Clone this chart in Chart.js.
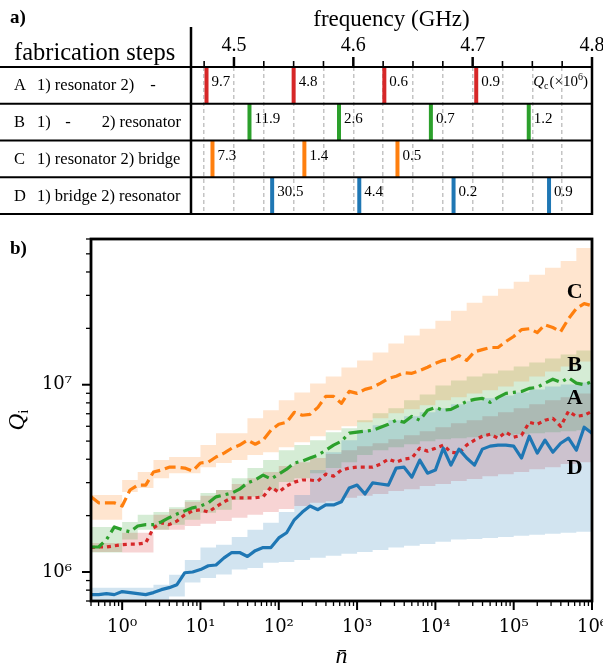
<!DOCTYPE html>
<html>
<head>
<meta charset="utf-8">
<script src="https://cdn.jsdelivr.net/npm/chart.js@4.4.1/dist/chart.umd.min.js"></script>
<style>
  body { margin: 0; background: #fff; }
  #wrap { position: relative; width: 603px; height: 672px; }
  canvas { position: absolute; left: 0; }
  #chartA { top: 0; }
  #chartB { top: 225px; }
</style>
</head>
<body>
<div id="wrap">
  <canvas id="chartA" width="603" height="225"></canvas>
  <canvas id="chartB" width="603" height="447"></canvas>
</div>
<script>
// ---------- panel a: resonance frequencies (GHz) and Qc (x10^6) ----------
const rowNames = ['A', 'B', 'C', 'D'];
const rowStep1 = ['resonator', '-', 'resonator', 'bridge'];
const rowStep2 = ['-', 'resonator', 'bridge', 'resonator'];
const rowColors = ['#d62728', '#2ca02c', '#ff7f0e', '#1f77b4'];

const freqA = [4.477, 4.550, 4.626, 4.703];
const freqB = [4.513, 4.588, 4.665, 4.747];
const freqC = [4.482, 4.559, 4.637];
const freqD = [4.532, 4.605, 4.684, 4.764];
const qcA = [9.7, 4.8, 0.6, 0.9];
const qcB = [11.9, 2.6, 0.7, 1.2];
const qcC = [7.3, 1.4, 0.5];
const qcD = [30.5, 4.4, 0.2, 0.9];

const freqTicks = [4.475, 4.5, 4.525, 4.55, 4.575, 4.6, 4.625, 4.65, 4.675, 4.7, 4.725, 4.75, 4.775, 4.8];
const freqMajor = [4.5, 4.6, 4.7, 4.8];
const freqLabels = ['4.5', '4.6', '4.7', '4.8'];

// ---------- panel b: Qi vs photon number ----------
const nBar = [0.4, 0.501, 0.631, 0.794, 1, 1.26, 1.58, 2, 2.51, 3.16,
  3.98, 5.01, 6.31, 7.94, 10, 12.6, 15.8, 20, 25.1, 31.6,
  39.8, 50.1, 63.1, 79.4, 100, 126, 158, 200, 251, 316,
  398, 501, 631, 794, 1000, 1260, 1580, 2000, 2510, 3160,
  3980, 5010, 6310, 7940, 1e4, 1.26e4, 1.58e4, 2e4, 2.51e4, 3.16e4,
  3.98e4, 5.01e4, 6.31e4, 7.94e4, 1e5, 1.26e5, 1.58e5, 2e5, 2.51e5, 3.16e5,
  3.98e5, 5.01e5, 6.31e5, 7.94e5, 1e6];

// Qi in units of 1e6
const qA = [1.35, 1.36, 1.36, 1.38, 1.40, 1.41, 1.41, 1.43, 1.72, 1.83,
  1.79, 1.87, 2.02, 2.12, 2.15, 2.09, 2.23, 2.37, 2.49, 2.49,
  2.49, 2.49, 2.52, 2.84, 2.67, 2.88, 3.02, 3.10, 3.10, 3.06,
  3.33, 3.25, 3.50, 3.59, 3.63, 3.63, 3.63, 3.77, 4.01, 3.86,
  4.01, 4.06, 4.58, 4.42, 4.58, 4.76, 4.36, 4.31, 4.76, 5.06,
  5.31, 5.44, 5.18, 5.58, 5.25, 5.37, 6.30, 6.15, 6.46, 6.62,
  6.00, 7.21, 6.78, 6.87, 7.21];
const qB = [1.36, 1.36, 1.49, 1.74, 1.68, 1.64, 1.76, 1.79, 1.79, 1.85,
  1.95, 2.04, 2.12, 2.20, 2.25, 2.34, 2.52, 2.58, 2.64, 2.77,
  2.99, 3.10, 3.29, 3.14, 3.33, 3.54, 3.82, 3.91, 4.06, 4.21,
  4.47, 4.76, 4.99, 5.51, 5.58, 5.65, 5.71, 5.93, 6.15, 6.46,
  6.30, 6.78, 6.46, 7.30, 7.57, 7.30, 7.39, 7.76, 8.15, 8.35,
  8.46, 8.05, 8.56, 8.99, 9.10, 9.21, 9.56, 9.68, 10.2, 10.7,
  10.3, 10.9, 10.2, 10.0, 10.4];
const qC = [2.52, 2.34, 2.34, 2.34, 2.25, 2.74, 2.91, 2.91, 3.42, 3.50,
  3.63, 3.63, 3.59, 3.46, 3.82, 3.86, 4.11, 4.31, 4.58, 4.76,
  5.06, 4.81, 5.06, 5.71, 6.15, 6.30, 7.12, 6.87, 6.95, 7.57,
  8.67, 8.67, 7.95, 9.21, 8.99, 9.44, 9.68, 10.2, 10.8, 11.1,
  11.6, 11.5, 11.9, 12.4, 13.0, 13.5, 13.6, 14.3, 13.5, 15.0,
  15.4, 15.8, 15.8, 17.0, 18.1, 19.7, 19.9, 19.0, 20.9, 20.2,
  19.2, 22.5, 25.5, 27.1, 26.4];
const qD = [0.757, 0.757, 0.767, 0.757, 0.786, 0.776, 0.767, 0.757, 0.776, 0.805,
  0.825, 0.856, 0.991, 1.00, 1.03, 1.08, 1.09, 1.19, 1.27, 1.27,
  1.21, 1.30, 1.35, 1.35, 1.52, 1.62, 1.90, 2.09, 2.25, 2.15,
  2.28, 2.28, 2.37, 2.81, 2.91, 2.61, 2.99, 2.95, 2.91, 3.59,
  3.63, 3.21, 3.96, 3.37, 3.50, 4.58, 3.72, 4.53, 4.06, 3.72,
  4.53, 4.70, 4.76, 4.76, 4.70, 4.06, 5.31, 4.31, 5.06, 4.36,
  4.87, 5.18, 4.47, 5.93, 5.51];

// shaded ranges (units of 1e6), stepped
const nBand = [0.4, 0.631, 1, 1.58, 2.51, 3.98, 6.31, 10, 15.8, 25.1,
  39.8, 63.1, 100, 158, 251, 398, 631, 1000, 1580, 2510,
  3980, 6310, 1e4, 1.58e4, 2.51e4, 3.98e4, 6.31e4, 1e5, 1.58e5, 2.51e5,
  3.98e5, 6.31e5, 1e6];
const bandALo = [1.28, 1.28, 1.27, 1.27, 1.68, 1.68, 1.76, 1.81, 1.87, 1.95, 2.02, 2.09, 2.17, 2.25, 2.34, 2.39, 2.49, 2.55, 2.61, 2.71, 2.77, 2.88, 2.95, 3.06, 3.14, 3.25, 3.33, 3.42, 3.54, 3.63, 3.77, 3.86, 3.96];
const bandAHi = [1.43, 1.43, 1.62, 1.62, 2.02, 2.17, 2.37, 2.55, 2.74, 2.95, 3.17, 3.42, 3.68, 3.86, 4.06, 4.26, 4.47, 4.70, 4.87, 5.12, 5.37, 5.65, 5.93, 6.23, 6.46, 6.78, 7.12, 7.48, 7.86, 8.25, 8.56, 8.99, 9.33];
const bandBLo = [1.27, 1.27, 1.49, 1.68, 1.68, 1.79, 1.90, 2.07, 2.15, 2.42, 2.52, 2.74, 3.02, 3.17, 3.37, 3.59, 3.86, 4.21, 4.47, 4.64, 4.81, 4.99, 5.12, 5.18, 5.25, 5.31, 5.37, 5.44, 5.51, 5.58, 5.65, 5.71, 5.71];
const bandBHi = [1.74, 1.74, 1.85, 2.02, 2.09, 2.22, 2.42, 2.64, 2.74, 3.17, 3.59, 3.96, 4.47, 4.76, 5.06, 5.58, 5.86, 6.46, 7.04, 7.48, 8.25, 8.88, 9.92, 10.54, 11.07, 11.49, 11.91, 12.51, 13.14, 13.80, 14.50, 15.22, 15.98];
const bandCLo = [1.90, 1.90, 2.67, 2.81, 3.17, 3.37, 3.37, 3.63, 3.82, 3.96, 4.21, 4.36, 4.64, 4.93, 5.31, 5.71, 6.00, 6.30, 6.62, 7.04, 7.39, 7.76, 8.25, 8.56, 8.99, 9.33, 9.79, 10.41, 11.07, 11.77, 12.51, 13.30, 13.97];
const bandCHi = [2.58, 2.58, 3.10, 3.42, 3.96, 4.11, 4.11, 4.76, 5.51, 5.51, 6.62, 7.30, 8.25, 9.10, 10.16, 11.07, 12.36, 13.47, 14.85, 16.58, 18.29, 19.93, 21.98, 24.84, 27.41, 29.85, 32.52, 35.44, 38.61, 42.07, 45.84, 53.75, 53.75];
const bandDLo = [0.69, 0.69, 0.69, 0.69, 0.71, 0.74, 0.88, 0.93, 0.97, 1.03, 1.05, 1.12, 1.13, 1.16, 1.19, 1.22, 1.25, 1.28, 1.31, 1.35, 1.38, 1.41, 1.45, 1.49, 1.50, 1.52, 1.54, 1.56, 1.58, 1.60, 1.62, 1.64, 1.66];
const bandDHi = [0.825, 0.825, 0.825, 0.825, 0.856, 0.967, 1.16, 1.35, 1.40, 1.54, 1.68, 1.83, 2.09, 2.58, 3.50, 4.36, 5.06, 5.71, 6.07, 6.46, 6.78, 7.12, 7.48, 7.86, 8.15, 8.46, 8.77, 9.10, 9.44, 9.79, 10.04, 10.28, 10.54];

const xTickValues = [1, 10, 100, 1e3, 1e4, 1e5, 1e6];
const xTickLabels = ['10⁰', '10¹', '10²', '10³', '10⁴', '10⁵', '10⁶'];
const yTickValues = [1e6, 1e7];
const yTickLabels = ['10⁶', '10⁷'];

const curveLetters = ['C', 'B', 'A', 'D'];
const curveLetterQ = [31, 12.7, 8.45, 3.6];
const curveLetterN = 6e5;

const serif = '"Liberation Serif", "DejaVu Serif", serif';
const tickSerif = '"DejaVu Serif", serif';

// ---------- helpers ----------
function logTicks(lo, hi) {
  const out = [];
  for (let e = Math.floor(Math.log10(lo)); e <= Math.ceil(Math.log10(hi)); e++) {
    for (let m = 1; m <= 9; m++) {
      const v = Number((m * Math.pow(10, e)).toPrecision(6));
      if (v >= lo * 0.9999 && v <= hi * 1.0001) out.push(v);
    }
  }
  return out;
}
function isPow10(v) {
  const l = Math.log10(v);
  return Math.abs(l - Math.round(l)) < 1e-9;
}
function labelFor(v, vals, labels) {
  const k = vals.findIndex(t => Math.abs(t - v) / t < 1e-6);
  return k >= 0 ? labels[k] : '';
}
function seg(ctx, x1, y1, x2, y2) {
  ctx.beginPath();
  ctx.moveTo(x1, y1);
  ctx.lineTo(x2, y2);
  ctx.stroke();
}

// ---------- panel a ----------
const freqSets = [freqA, freqB, freqC, freqD];
const qcSets = [qcA, qcB, qcC, qcD];

const tablePlugin = {
  id: 'table',
  afterDraw(chart) {
    const { ctx, chartArea: a, scales: { x, y } } = chart;
    ctx.save();
    ctx.strokeStyle = '#000';
    ctx.fillStyle = '#000';

    // tick marks on top
    freqTicks.forEach(v => {
      const px = x.getPixelForValue(v);
      const major = freqMajor.some(m => Math.abs(m - v) < 1e-9);
      ctx.lineWidth = major ? 2.5 : 1.6;
      seg(ctx, px, a.top, px, a.top - (major ? 10 : 6));
    });

    // table lines
    ctx.lineWidth = 2;
    for (let i = 0; i <= rowNames.length; i++) {
      const py = y.getPixelForValue(i);
      seg(ctx, 0, py, a.right + 1, py);
    }
    ctx.lineWidth = 2.5;
    seg(ctx, a.left, 27, a.left, a.bottom + 1);
    seg(ctx, a.right, a.top, a.right, a.bottom + 1);

    // header texts
    ctx.textAlign = 'left';
    ctx.textBaseline = 'alphabetic';
    ctx.font = 'bold 19px ' + serif;
    ctx.fillText('a)', 10, 23);
    ctx.font = '24.5px ' + serif;
    ctx.fillText('fabrication steps', 14, 60);

    // row labels
    ctx.font = '16.5px ' + serif;
    rowNames.forEach((r, i) => {
      const base = (y.getPixelForValue(i) + y.getPixelForValue(i + 1)) / 2 + 5;
      ctx.textAlign = 'left';
      ctx.fillText(r, 14, base);
      const s1 = rowStep1[i], s2 = rowStep2[i];
      if (s1 === '-') {
        ctx.fillText('1)', 37, base);
        ctx.textAlign = 'center';
        ctx.fillText('-', 68, base);
        ctx.textAlign = 'right';
        ctx.fillText('2) ' + s2, 181, base);
      } else if (s2 === '-') {
        ctx.fillText('1) ' + s1 + ' 2)', 37, base);
        ctx.textAlign = 'center';
        ctx.fillText('-', 153, base);
      } else {
        ctx.fillText('1) ' + s1 + ' 2) ' + s2, 37, base);
      }
    });

    // Qc labels next to bars
    ctx.textAlign = 'left';
    ctx.font = '15px ' + serif;
    qcSets.forEach((qs, i) => {
      const meta = chart.getDatasetMeta(i);
      const base = y.getPixelForValue(i) + 19;
      meta.data.forEach((pt, j) => {
        ctx.fillText(qs[j].toFixed(1), pt.x + 5, base);
      });
    });

    // Qc(x10^6) note in first row
    const nb = y.getPixelForValue(0) + 19;
    const parts = [
      ['Q', 'italic 15px ' + serif, 0],
      ['c', '10px ' + serif, 3],
      ['(×10', '15px ' + serif, 0],
      ['6', '10px ' + serif, -6],
      [')', '15px ' + serif, 0]
    ];
    let total = 0;
    parts.forEach(p => { ctx.font = p[1]; total += ctx.measureText(p[0]).width + (p[0] === 'c' ? 1 : 0); });
    let cx = a.right - 4 - total;
    parts.forEach(p => {
      ctx.font = p[1];
      ctx.fillText(p[0], cx, nb + p[2]);
      cx += ctx.measureText(p[0]).width + (p[0] === 'c' ? 1 : 0);
    });
    ctx.restore();
  }
};

new Chart(document.getElementById('chartA'), {
  type: 'scatter',
  data: {
    datasets: freqSets.map((fs, i) => ({
      label: rowNames[i],
      data: fs.map(f => ({ x: f, y: i + 0.5 })),
      pointStyle: 'line',
      pointRotation: 90,
      pointRadius: c => {
        const ys = c.chart.scales.y;
        return Math.abs(ys.getPixelForValue(1) - ys.getPixelForValue(0)) / 2;
      },
      pointBorderWidth: 4,
      pointBorderColor: rowColors[i],
      pointBackgroundColor: rowColors[i]
    }))
  },
  options: {
    responsive: false,
    animation: false,
    devicePixelRatio: 1,
    events: [],
    layout: { padding: { left: 191, right: 11, top: 0, bottom: 11 } },
    plugins: { legend: { display: false }, tooltip: { enabled: false } },
    scales: {
      x: {
        type: 'linear',
        position: 'top',
        min: 4.464,
        max: 4.8,
        afterBuildTicks: s => { s.ticks = freqTicks.map(v => ({ value: v })); },
        afterFit: s => { s.height = 67; s.paddingLeft = 0; s.paddingRight = 0; },
        ticks: {
          autoSkip: false,
          maxRotation: 0,
          padding: 9,
          color: '#000',
          font: { family: serif, size: 20 },
          callback: v => labelFor(v, freqMajor, freqLabels)
        },
        grid: {
          drawTicks: false,
          lineWidth: 1.5,
          color: c => (c.tick && c.tick.value > 4.79) ? 'rgba(0,0,0,0)' : '#c4c4c4'
        },
        border: { display: false, dash: [4, 3] },
        title: {
          display: true,
          text: 'frequency (GHz)',
          color: '#000',
          font: { family: serif, size: 23 },
          padding: { top: 6, bottom: 0 }
        }
      },
      y: { type: 'linear', min: 0, max: 4, reverse: true, display: false }
    }
  },
  plugins: [tablePlugin]
});

// ---------- panel b ----------
const pts = (xs, ys) => xs.map((x, i) => ({ x: x, y: ys[i] * 1e6 }));

const curves = [
  { q: qD, color: '#1f77b4', dash: [] },
  { q: qC, color: '#ff7f0e', dash: [11, 5] },
  { q: qB, color: '#2ca02c', dash: [14, 5, 3, 5] },
  { q: qA, color: '#d62728', dash: [4, 4] }
];
const bands = [
  { lo: bandDLo, hi: bandDHi, color: 'rgba(31,119,180,0.2)' },
  { lo: bandCLo, hi: bandCHi, color: 'rgba(255,127,14,0.2)' },
  { lo: bandBLo, hi: bandBHi, color: 'rgba(44,160,44,0.2)' },
  { lo: bandALo, hi: bandAHi, color: 'rgba(214,39,40,0.2)' }
];

const datasetsB = curves.map(c => ({
  data: pts(nBar, c.q),
  borderColor: c.color,
  borderWidth: 3.2,
  borderDash: c.dash,
  borderJoinStyle: 'round',
  pointRadius: 0,
  fill: false
}));
bands.forEach(b => {
  datasetsB.push({
    data: pts(nBand, b.lo), stepped: true, pointRadius: 0,
    borderWidth: 0, borderColor: 'rgba(0,0,0,0)', fill: false
  });
  datasetsB.push({
    data: pts(nBand, b.hi), stepped: true, pointRadius: 0,
    borderWidth: 0, borderColor: 'rgba(0,0,0,0)', fill: '-1', backgroundColor: b.color
  });
});

const xTickAll = logTicks(0.4, 1e6);
const yTickAll = logTicks(7e5, 6e7);

const framePlugin = {
  id: 'frame',
  afterDraw(chart) {
    const { ctx, chartArea: a, scales: { x, y } } = chart;
    ctx.save();
    ctx.strokeStyle = '#000';
    ctx.fillStyle = '#000';
    xTickAll.forEach(v => {
      const px = x.getPixelForValue(v);
      const major = isPow10(v);
      ctx.lineWidth = major ? 2 : 1.3;
      seg(ctx, px, a.bottom, px, a.bottom + (major ? 9 : 5));
    });
    yTickAll.forEach(v => {
      const py = y.getPixelForValue(v);
      const major = isPow10(v);
      ctx.lineWidth = major ? 2 : 1.3;
      seg(ctx, a.left, py, a.left - (major ? 9 : 5), py);
    });
    ctx.lineWidth = 2.8;
    ctx.strokeRect(a.left, a.top, a.right - a.left, a.bottom - a.top);

    // curve letters
    ctx.font = 'bold 22px ' + serif;
    ctx.textAlign = 'center';
    ctx.textBaseline = 'middle';
    curveLetters.forEach((s, i) => {
      ctx.fillText(s, x.getPixelForValue(curveLetterN), y.getPixelForValue(curveLetterQ[i] * 1e6));
    });

    // y axis title Q_i
    ctx.save();
    ctx.translate(17, (a.top + a.bottom) / 2);
    ctx.rotate(-Math.PI / 2);
    ctx.textAlign = 'left';
    ctx.textBaseline = 'alphabetic';
    ctx.font = 'italic 23px ' + serif;
    const qw = ctx.measureText('Q').width;
    ctx.font = '15px ' + serif;
    const iw = ctx.measureText('i').width;
    const x0 = -(qw + iw) / 2;
    ctx.font = 'italic 23px ' + serif;
    ctx.fillText('Q', x0, 7);
    ctx.font = '15px ' + serif;
    ctx.fillText('i', x0 + qw, 11);
    ctx.restore();

    ctx.font = 'bold 19px ' + serif;
    ctx.textAlign = 'left';
    ctx.textBaseline = 'alphabetic';
    ctx.fillText('b)', 10, 29);
    ctx.restore();
  }
};

new Chart(document.getElementById('chartB'), {
  type: 'line',
  data: { datasets: datasetsB },
  options: {
    responsive: false,
    animation: false,
    devicePixelRatio: 1,
    events: [],
    layout: { padding: { left: 0, right: 11, top: 14, bottom: 0 } },
    plugins: { legend: { display: false }, tooltip: { enabled: false }, filler: { propagate: false } },
    elements: { line: { tension: 0 }, point: { radius: 0 } },
    scales: {
      x: {
        type: 'logarithmic',
        min: 0.4,
        max: 1e6,
        afterBuildTicks: s => { s.ticks = xTickAll.map(v => ({ value: v })); },
        afterFit: s => { s.height = 71; s.paddingLeft = 0; s.paddingRight = 0; },
        ticks: {
          autoSkip: false,
          maxRotation: 0,
          padding: 16,
          color: '#000',
          font: { family: tickSerif, size: 18 },
          callback: v => labelFor(v, xTickValues, xTickLabels)
        },
        grid: { drawOnChartArea: false, drawTicks: false },
        border: { display: false },
        title: {
          display: true,
          text: 'n\u0304',
          color: '#000',
          font: { family: serif, size: 24, style: 'italic' },
          padding: { top: 0, bottom: 1 }
        }
      },
      y: {
        type: 'logarithmic',
        min: 7e5,
        max: 6e7,
        afterBuildTicks: s => { s.ticks = yTickAll.map(v => ({ value: v })); },
        afterFit: s => { s.width = 91; s.paddingTop = 0; s.paddingBottom = 0; },
        ticks: {
          autoSkip: false,
          padding: 19,
          color: '#000',
          font: { family: tickSerif, size: 18 },
          callback: v => labelFor(v, yTickValues, yTickLabels)
        },
        grid: { drawOnChartArea: false, drawTicks: false },
        border: { display: false }
      }
    }
  },
  plugins: [framePlugin]
});
</script>
</body>
</html>
